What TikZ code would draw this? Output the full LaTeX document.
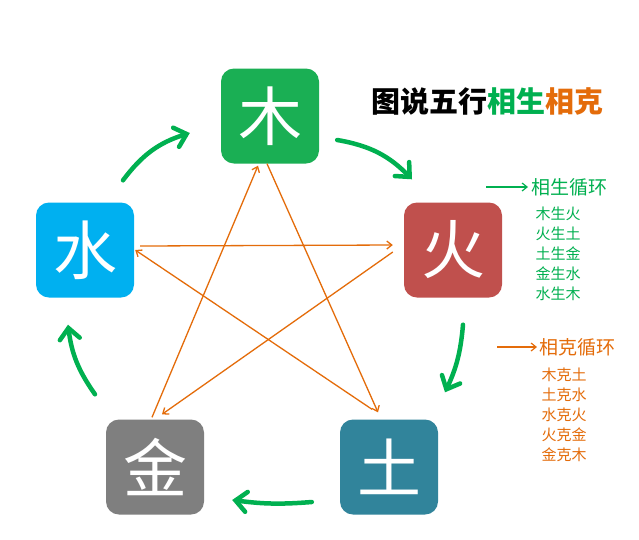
\documentclass[tikz,border=0pt]{standalone}
\usepackage{fontspec}
\usepackage{tikz}
\usetikzlibrary{arrows.meta, positioning}
\newfontfamily\cjk{Noto Sans CJK SC}
\definecolor{shenggreen}{RGB}{0,176,80}
\definecolor{keorange}{RGB}{228,108,10}
\definecolor{mucol}{RGB}{26,175,84}
\definecolor{huocol}{RGB}{192,80,77}
\definecolor{tucol}{RGB}{49,132,155}
\definecolor{jincol}{RGB}{127,127,127}
\definecolor{shuicol}{RGB}{0,176,240}

\begin{document}
\begin{tikzpicture}[x=1pt, y=-1pt,
  elem/.style={rounded corners=13pt, minimum width=98pt, minimum height=95pt,
    inner sep=0pt, text=white, font=\cjk\fontsize{64}{64}\selectfont},
  sheng/.style={shenggreen, line width=4.5pt, line cap=round,
    -{Straight Barb[length=11pt, width=20pt, line cap=round]}},
  ke/.style={keorange, line width=1.3pt, -{Straight Barb[length=5pt, width=8pt]}},
  legtext/.style={font=\cjk\fontsize{15}{20}\selectfont, align=left, inner sep=0pt}]
  \useasboundingbox (0,0) rectangle (639,539);
  \fill[white] (0,0) rectangle (639,539);

  \node[elem, fill=mucol] (mu) at (270,116) {木};
  \node[elem, fill=huocol] (huo) at (453,250) {火};
  \node[elem, fill=tucol] (tu) at (389,467) {土};
  \node[elem, fill=jincol] (jin) at (155,467) {金};
  \node[elem, fill=shuicol] (shui) at (85,250) {水};

  \draw[ke] ([xshift=-3pt]mu.south) -- ([shift={(-11pt,7pt)}]tu.north);
  \draw[ke] ([shift={(-17pt,10pt)}]tu.north) -- ([xshift=1pt]shui.east);
  \draw[ke] ([shift={(6pt,4pt)}]shui.east) -- ([shift={(-11pt,5pt)}]huo.west);
  \draw[ke] ([shift={(-11pt,-2pt)}]huo.west) -- ([shift={(7pt,5pt)}]jin.north);
  \draw[ke] ([shift={(-3pt,2pt)}]jin.north) -- ([shift={(-12pt,-2pt)}]mu.south);

  \draw[sheng] ([shift={(38pt,22pt)}]shui.north) to[bend left=18] ([shift={(-31pt,-17pt)}]mu.west);
  \draw[sheng] ([shift={(18pt,-24pt)}]mu.east) to[bend left=18] ([shift={(-41pt,23pt)}]huo.north);
  \draw[sheng] ([shift={(10pt,-27pt)}]huo.south) to[bend left=10] ([shift={(56pt,27pt)}]tu.north);
  \draw[sheng] ([shift={(-28pt,-35pt)}]tu.west) to[bend left=6] ([shift={(28pt,-33pt)}]jin.east);
  \draw[sheng] ([shift={(-60pt,25pt)}]jin.north) to[bend left=14] ([shift={(-17pt,-27pt)}]shui.south);

  \node[anchor=west, inner sep=0pt, font=\cjk\bfseries\fontsize{29}{29}\selectfont] (title) at (371,101)
    {图说五行\textcolor{shenggreen}{相生}\textcolor{keorange}{相克}};

  \coordinate (shengtail) at (486,187);
  \node[anchor=west, inner sep=0pt, text=shenggreen, font=\cjk\fontsize{19}{19}\selectfont] (shenghead) at (531,187) {相生循环};
  \draw[shenggreen, line width=1.2pt, -{Straight Barb[length=5pt, width=8pt]}] (shengtail) -- ([xshift=-3pt]shenghead.west);
  \node[legtext, text=shenggreen] (shenglist) at (558,254) {木生火\\火生土\\土生金\\金生水\\水生木};

  \coordinate (ketail) at (497,347);
  \node[anchor=west, inner sep=0pt, text=keorange, font=\cjk\fontsize{19}{19}\selectfont] (kehead) at (539,347) {相克循环};
  \draw[keorange, line width=1.2pt, -{Straight Barb[length=5pt, width=8pt]}] (ketail) -- ([xshift=-2pt]kehead.west);
  \node[legtext, text=keorange] (kelist) at (564,415) {木克土\\土克水\\水克火\\火克金\\金克木};
\end{tikzpicture}
\end{document}
